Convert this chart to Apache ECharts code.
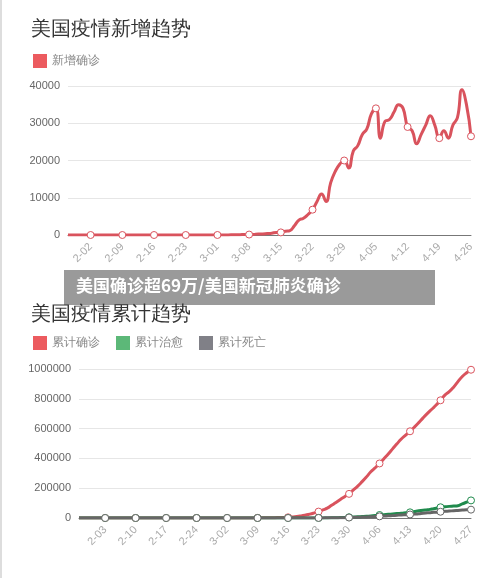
<!DOCTYPE html>
<html>
<head>
<meta charset="utf-8">
<script src="https://cdn.jsdelivr.net/npm/echarts@6/dist/echarts.min.js"></script>
<style>
  body { margin: 0; background: #fff; }
  #main { width: 500px; height: 578px; border-left: 2px solid #ddd; box-sizing: border-box; }
</style>
</head>
<body>
<div id="main"></div>
<script>
// 1-28 .. 2-29 (33 days), March (31), April
var newCases = [
  0,0,0,0,0,0,0,0,0,0,0,0,0,0,0,0,0,0,0,0,0,0,0,0,0,0,0,0,0,0,0,0,0,
  5,20,25,35,70,90,120,120,140,300,300,400,500,700,700,1000,1200,2500,4000,4500,5500,6800,9000,11000,9000,
  14000,17000,19000,20000,18000,22500,
  24000,27000,28500,32500,34000,26000,30500,31000,33000,35000,34000,29000,28000,24500,27000,29500,
  32000,29500,26000,28000,26000,29500,31500,39000,35000,26500
];

var totalConfirmed = [
  5,5,6,7,8,11,11,11,12,12,12,12,12,13,13,14,15,15,15,15,15,15,35,35,35,53,53,59,60,62,64,68,70,
  75,100,125,160,230,320,440,560,700,1000,1300,1700,2200,2900,3500,4600,6400,9400,14000,19600,26000,
  34000,43000,54000,66000,85000,104000,124000,143000,162000,188000,
  214000,244000,276000,310000,337000,366000,398000,430000,464000,498000,530000,556000,582000,610000,
  640000,672000,702000,730000,758000,790000,825000,848000,878000,915000,950000,975000,995000
];
var totalRecovered = [
  0,0,0,0,0,0,0,0,0,0,0,1,1,1,1,1,1,3,3,3,3,3,3,3,3,3,5,5,5,5,6,6,7,
  7,7,7,8,8,8,8,8,8,8,8,8,12,12,12,12,17,100,100,150,170,180,300,400,500,900,1800,2600,3500,5000,6500,
  8500,9500,11000,14000,16000,20000,22000,25000,27000,30000,32000,35000,38000,43000,48000,52000,55000,
  60000,65000,72000,75000,78000,80000,82000,95000,106000,118000
];
var totalDeaths = [
  0,0,0,0,0,0,0,0,0,0,0,0,0,0,0,0,0,0,0,0,0,0,0,0,0,0,0,0,0,0,0,0,0,
  1,6,9,11,12,15,19,22,26,30,38,41,48,57,69,87,108,150,210,260,340,470,600,780,1000,1300,1700,2200,2500,3000,3900,
  5000,6000,7000,8500,9600,11000,13000,14800,16600,18600,20600,22100,23600,26000,28500,32000,34600,
  37000,39000,42000,44800,46600,49000,51000,53000,54800,56000
];

function makeDates(n) {
  var out = [], d = new Date(2020, 0, 28);
  for (var i = 0; i < n; i++) {
    out.push((d.getMonth() + 1) + '-' + String(d.getDate()).padStart(2, '0'));
    d.setDate(d.getDate() + 1);
  }
  return out;
}
var datesNew = makeDates(newCases.length);
var datesTotal = makeDates(totalConfirmed.length);

function marked(arr, first) {
  return arr.map(function (v, i) {
    return (i - first) % 7 === 0 && i >= first
      ? { value: v, symbol: 'circle' } : { value: v, symbol: 'none' };
  });
}

var RED = '#d9535d', GREEN = '#1f8a4c', GREY = '#666';
var chart = echarts.init(document.getElementById('main'));

function lineSeries(name, data, first, color, xi, z) {
  return {
    name: name, type: 'line', smooth: true, xAxisIndex: xi, yAxisIndex: xi, z: z,
    data: marked(data, first), symbolSize: 7,
    lineStyle: { width: 3, color: color },
    itemStyle: { color: '#fff', borderColor: color, borderWidth: 1 }
  };
}

var yLabel = { color: '#666', fontSize: 11, formatter: function (v) { return String(v); } };
var xLabel = { color: '#aaa', fontSize: 11, rotate: 45, margin: 10 };
var legendItem = function (name, c) { return { name: name, itemStyle: { color: c, borderWidth: 0 } }; };

chart.setOption({
  animation: false,
  title: [
    { text: '美国疫情新增趋势', left: 24, top: 14, textStyle: { fontSize: 20, fontWeight: 'normal', color: '#333' } },
    { text: '美国疫情累计趋势', left: 24, top: 299, z: 200, textStyle: { fontSize: 20, fontWeight: 'normal', color: '#333' } }
  ],
  legend: [
    { data: [legendItem('新增确诊', '#ec5b5f')], left: 26, top: 49, icon: 'rect', itemWidth: 14, itemHeight: 14, itemGap: 10, textStyle: { color: '#888', fontSize: 12 } },
    { data: [legendItem('累计确诊', '#ec5b5f'), legendItem('累计治愈', '#5cb878'), legendItem('累计死亡', '#808087')],
      left: 26, top: 331, icon: 'rect', itemWidth: 14, itemHeight: 14, itemGap: 16, textStyle: { color: '#888', fontSize: 12 } }
  ],
  grid: [
    { left: 66, right: 29, top: 86, height: 149 },
    { left: 77, right: 29, top: 369, height: 149 }
  ],
  xAxis: [
    { type: 'category', gridIndex: 0, data: datesNew, boundaryGap: false,
      axisLine: { lineStyle: { color: '#777' } }, axisTick: { show: false },
      axisLabel: Object.assign({ interval: function (i) { return i >= 5 && (i - 5) % 7 === 0; } }, xLabel) },
    { type: 'category', gridIndex: 1, data: datesTotal, boundaryGap: false,
      axisLine: { lineStyle: { color: '#777' } }, axisTick: { show: false },
      axisLabel: Object.assign({ interval: function (i) { return i >= 6 && (i - 6) % 7 === 0; } }, xLabel) }
  ],
  yAxis: [
    { type: 'value', gridIndex: 0, min: 0, max: 40000, interval: 10000, axisLabel: yLabel,
      splitLine: { lineStyle: { color: '#e6e6e6' } } },
    { type: 'value', gridIndex: 1, min: 0, max: 1000000, interval: 200000, axisLabel: yLabel,
      splitLine: { lineStyle: { color: '#e6e6e6' } } }
  ],
  series: [
    lineSeries('新增确诊', newCases, 5, RED, 0, 2),
    lineSeries('累计确诊', totalConfirmed, 6, RED, 1, 2),
    lineSeries('累计治愈', totalRecovered, 6, GREEN, 1, 3),
    lineSeries('累计死亡', totalDeaths, 6, GREY, 1, 4)
  ],
  graphic: [
    { type: 'rect', left: 62, top: 270, shape: { width: 371, height: 35 }, style: { fill: 'rgba(145,145,145,0.92)' }, z: 100 },
    { type: 'text', left: 74, top: 277, z: 101,
      style: { text: '美国确诊超69万/美国新冠肺炎确诊', fill: '#fff', font: 'bold 17px "Noto Sans CJK SC"' } }
  ]
});
</script>
</body>
</html>
